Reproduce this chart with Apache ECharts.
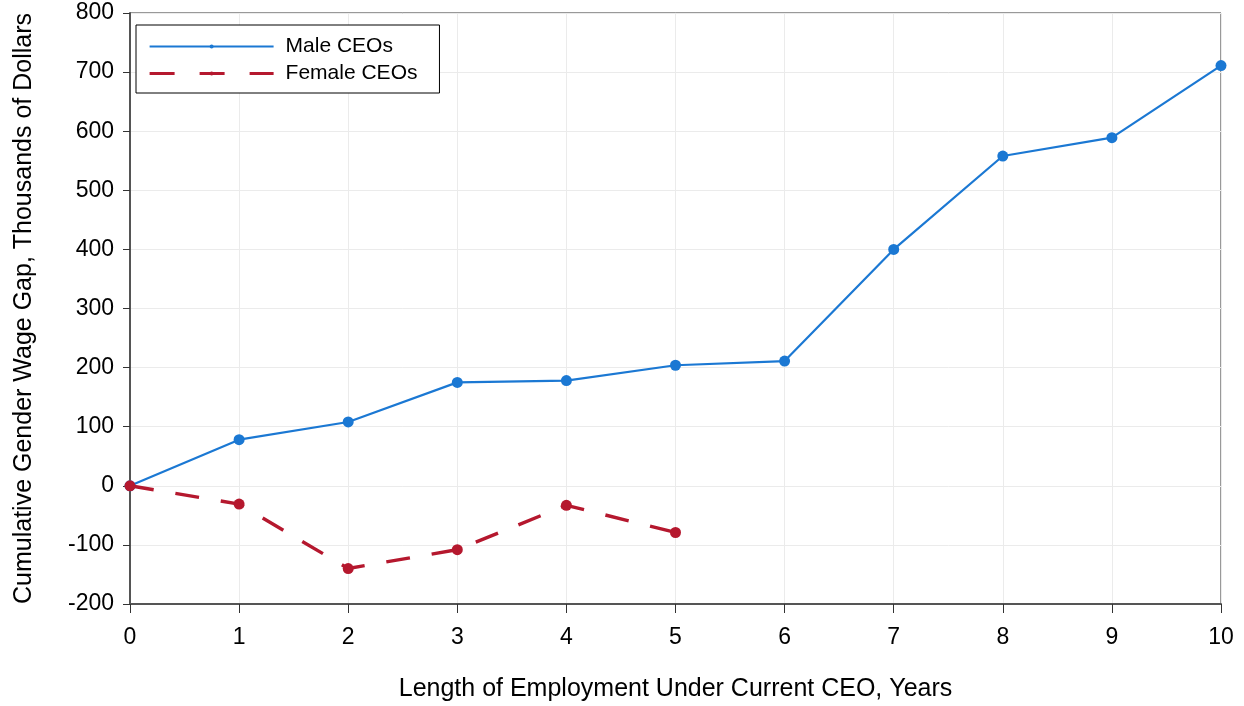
<!DOCTYPE html>
<html>
<head>
<meta charset="utf-8">
<style>
  html, body { margin: 0; padding: 0; background: #ffffff; }
  #chart { width: 1244px; height: 706px; }
</style>
<script src="https://cdn.jsdelivr.net/npm/echarts@6/dist/echarts.min.js"></script>
</head>
<body>
<div id="chart"></div>
<script>
// Years of employment under the current CEO
const years = [0, 1, 2, 3, 4, 5, 6, 7, 8, 9, 10];
// Cumulative gender wage gap, thousands of dollars
const maleCEOs = [0, 78, 108, 175, 178, 204, 211, 400, 558, 589, 711];
const femaleCEOs = [0, -31, -140, -108, -33, -79];

const maleColor = '#1b78d3';
const femaleColor = '#b5182e';
const fontFamily = '"Liberation Sans", Arial, sans-serif';

const toPairs = (xs, ys) => ys.map((v, i) => [xs[i], v]);

const chart = echarts.init(document.getElementById('chart'), null, { renderer: 'canvas' });

chart.setOption({
  backgroundColor: '#ffffff',
  animation: false,
  textStyle: { fontFamily: fontFamily, color: '#000' },
  grid: {
    left: 130, right: 23, top: 13, bottom: 102,
    outerBoundsMode: 'none',
    containLabel: false,
    show: true,
    borderColor: '#333',
    borderWidth: 1,
    backgroundColor: 'transparent'
  },
  legend: {
    left: 136, top: 25,
    orient: 'vertical',
    padding: [11, 22, 9, 12],
    itemWidth: 124,
    itemHeight: 5,
    itemGap: 6,
    backgroundColor: '#fff',
    borderColor: '#000',
    borderWidth: 1,
    borderRadius: 0,
    textStyle: { fontSize: 21, fontFamily: fontFamily, color: '#000', padding: [0, 0, 0, 7] },
    data: [
      { name: 'Male CEOs', lineStyle: { width: 2 } },
      { name: 'Female CEOs', lineStyle: { width: 3.2, type: [25, 25] } }
    ]
  },
  xAxis: {
    type: 'value',
    min: 0, max: 10, interval: 1,
    name: 'Length of Employment Under Current CEO, Years',
    nameLocation: 'middle',
    nameGap: 73,
    nameTextStyle: { fontSize: 25, fontFamily: fontFamily, color: '#000' },
    axisLine: { show: true, onZero: false, lineStyle: { color: '#555', width: 2 } },
    axisTick: { show: true, inside: false, length: 9, lineStyle: { color: '#333', width: 1 } },
    axisLabel: { fontSize: 23, margin: 22, color: '#000', fontFamily: fontFamily },
    splitLine: { show: true, lineStyle: { color: '#ebebeb', width: 1 } }
  },
  yAxis: {
    type: 'value',
    min: -200, max: 800, interval: 100,
    name: 'Cumulative Gender Wage Gap, Thousands of Dollars',
    nameLocation: 'middle',
    nameGap: 93,
    nameTextStyle: { fontSize: 25, fontFamily: fontFamily, color: '#000' },
    axisLine: { show: true, onZero: false, lineStyle: { color: '#555', width: 2 } },
    axisTick: { show: true, inside: false, length: 7, lineStyle: { color: '#333', width: 1 } },
    axisLabel: { fontSize: 23, margin: 16, color: '#000', fontFamily: fontFamily },
    splitLine: { show: true, lineStyle: { color: '#ebebeb', width: 1 } }
  },
  series: [
    {
      name: 'Male CEOs',
      type: 'line',
      data: toPairs(years, maleCEOs),
      symbol: 'circle',
      symbolSize: 11,
      itemStyle: { color: maleColor },
      lineStyle: { color: maleColor, width: 2.2 },
      z: 3
    },
    {
      name: 'Female CEOs',
      type: 'line',
      data: toPairs(years, femaleCEOs),
      symbol: 'circle',
      symbolSize: 11,
      itemStyle: { color: femaleColor },
      lineStyle: { color: femaleColor, width: 3.4, type: [24, 22] },
      z: 4
    }
  ]
});
</script>
</body>
</html>
